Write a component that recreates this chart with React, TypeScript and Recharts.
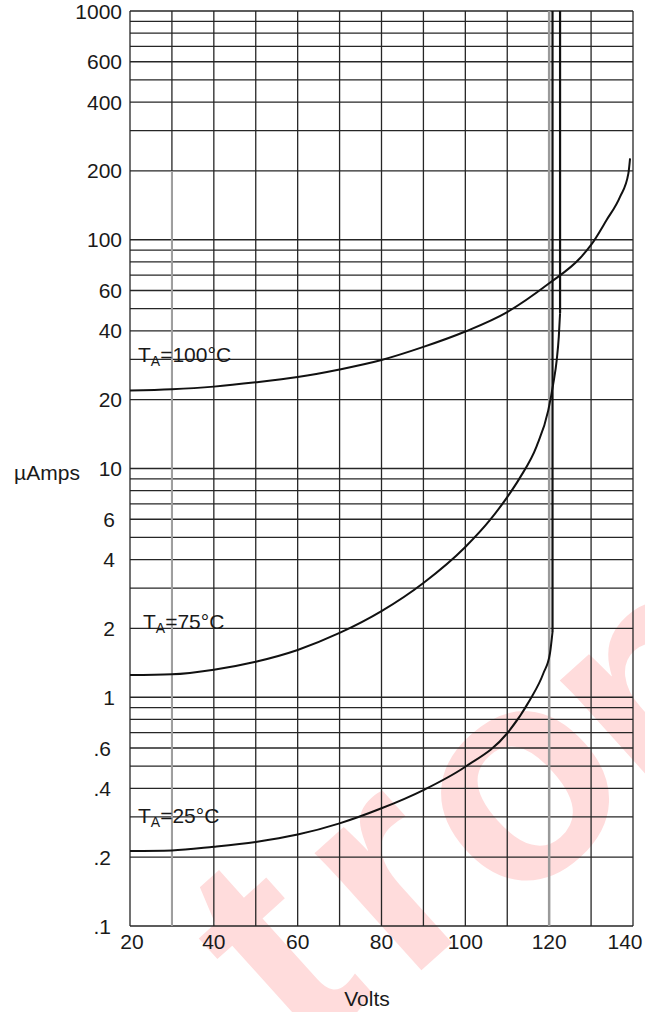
import { LineChart, Line, XAxis, YAxis, CartesianGrid, ReferenceLine } from 'recharts'

// axis ticks (log grid: 1..9 per decade)
const voltTicks = [20, 30, 40, 50, 60, 70, 80, 90, 100, 110, 120, 130, 140]
const voltLabels = [20, 40, 60, 80, 100, 120, 140]
const ampTicks = [
  0.1, 0.2, 0.3, 0.4, 0.5, 0.6, 0.7, 0.8, 0.9,
  1, 2, 3, 4, 5, 6, 7, 8, 9,
  10, 20, 30, 40, 50, 60, 70, 80, 90,
  100, 200, 300, 400, 500, 600, 700, 800, 900, 1000,
]
const ampLabels = [0.1, 0.2, 0.4, 0.6, 1, 2, 4, 6, 10, 20, 40, 60, 100, 200, 400, 600, 1000]

// TA = 100°C
const t100Volts = [20, 30, 40, 50, 60, 70, 80, 90, 100, 110, 120, 127.4, 130, 133.7, 136.9, 138.9, 139.3]
const t100Amps = [21.9, 22.2, 22.8, 23.8, 25.1, 27.1, 29.8, 34.0, 39.7, 48.3, 64.5, 83.2, 94.9, 122, 154, 195, 227]

// TA = 75°C
const t75Volts = [20, 30, 40, 50, 60, 70, 80, 90, 100, 105.9, 110, 113, 117, 119.8, 121, 121.8, 122.3, 122.6]
const t75Amps = [1.25, 1.26, 1.32, 1.43, 1.61, 1.91, 2.38, 3.16, 4.54, 5.96, 7.5, 9.1, 12.5, 18.0, 23.6, 29.8, 37.7, 47.7]
const t75BreakVolts = [122.6, 122.6]
const t75BreakAmps = [47.7, 1000]

// TA = 25°C
const t25Volts = [20, 30, 40, 50, 60, 70, 80, 90, 100, 110, 115.4, 118.6, 120.2, 120.8]
const t25Amps = [0.213, 0.214, 0.222, 0.233, 0.251, 0.281, 0.327, 0.393, 0.497, 0.696, 0.973, 1.27, 1.56, 1.93]
const t25BreakVolts = [120.8, 120.8]
const t25BreakAmps = [1.93, 1000]

const toPoints = (volts: number[], amps: number[]) => volts.map((v, i) => ({ volts: v, amps: amps[i] }))

const FONT = '"Liberation Sans", Arial, sans-serif'
const INK = '#1a1a1a'
const GRID = '#262626'

const XTick = ({ x, y, payload }: any) => {
  const v = payload.value
  if (!voltLabels.includes(v)) return null
  const shift = v === 140 ? -8 : v === 20 ? 2 : 0
  return (
    <text x={x + shift} y={y} dy="0.71em" textAnchor="middle" fontSize={21} fontFamily={FONT} fill={INK}>
      {v}
    </text>
  )
}

const YTick = ({ x, y, payload }: any) => {
  const v = payload.value
  if (!ampLabels.includes(v)) return null
  const text = v < 1 ? String(v).replace('0.', '.') : String(v)
  const shift = v >= 10 ? 0 : v >= 1 ? -7 : -11
  return (
    <text x={x + shift} y={y} dy="0.36em" textAnchor="end" fontSize={21} fontFamily={FONT} fill={INK}>
      {text}
    </text>
  )
}

function Temp({ x, y, t }: { x: number; y: number; t: string }) {
  return (
    <text x={x} y={y} fontSize={21} fontFamily={FONT} fill={INK}>
      T<tspan fontSize={14} dy={3.5}>A</tspan>
      <tspan dy={-3.5}>={t}°C</tspan>
    </text>
  )
}

// watermark letters, each rotated on its own
function Mark({ x, y, ch }: { x: number; y: number; ch: string }) {
  return (
    <text
      transform={`translate(${x},${y}) rotate(-42)`}
      textAnchor="middle"
      dy="0.27em"
      fontSize={300}
      fontWeight="bold"
      fontFamily={FONT}
      fill="#ffdcdc"
    >
      {ch}
    </text>
  )
}

export default function App() {
  return (
    <div style={{ position: 'absolute', left: 0, top: 0, width: 645, height: 1012, background: '#fff', overflow: 'hidden' }}>
      <svg width={645} height={1012} style={{ position: 'absolute', left: 0, top: 0 }}>
        <Mark x={285} y={965} ch="t" />
        <Mark x={395} y={885} ch="r" />
        <Mark x={524} y={795} ch="o" />
        <Mark x={665} y={690} ch="n" />
      </svg>
      <div style={{ position: 'absolute', left: 0, top: 0 }}>
        <LineChart width={645} height={1012} margin={{ top: 11, right: 12, bottom: 0, left: 0 }}>
          <CartesianGrid stroke={GRID} strokeWidth={1.3} />
          <XAxis
            type="number"
            dataKey="volts"
            domain={[20, 140]}
            ticks={voltTicks}
            interval={0}
            allowDataOverflow
            height={86}
            axisLine={false}
            tickLine={false}
            tick={<XTick />}
          />
          <YAxis
            type="number"
            scale="log"
            dataKey="amps"
            domain={[0.1, 1000]}
            ticks={ampTicks}
            interval={0}
            allowDataOverflow
            width={130}
            axisLine={false}
            tickLine={false}
            tick={<YTick />}
          />
          <ReferenceLine x={120} stroke="#9a9a9a" strokeWidth={2.5} />
          <ReferenceLine segment={[{ x: 30, y: 0.1 }, { x: 30, y: 200 }]} stroke="#a0a0a0" strokeWidth={2} />
          <Line data={toPoints(t100Volts, t100Amps)} dataKey="amps" type="monotone" stroke="#111" strokeWidth={2} dot={false} isAnimationActive={false} />
          <Line data={toPoints(t75Volts, t75Amps)} dataKey="amps" type="monotone" stroke="#111" strokeWidth={2} dot={false} isAnimationActive={false} />
          <Line data={toPoints(t75BreakVolts, t75BreakAmps)} dataKey="amps" type="linear" stroke="#111" strokeWidth={2.2} dot={false} isAnimationActive={false} />
          <Line data={toPoints(t25Volts, t25Amps)} dataKey="amps" type="monotone" stroke="#111" strokeWidth={2} dot={false} isAnimationActive={false} />
          <Line data={toPoints(t25BreakVolts, t25BreakAmps)} dataKey="amps" type="linear" stroke="#111" strokeWidth={2.2} dot={false} isAnimationActive={false} />
        </LineChart>
      </div>
      <svg width={645} height={1012} style={{ position: 'absolute', left: 0, top: 0, pointerEvents: 'none' }}>
        <Temp x={138} y={362} t="100" />
        <Temp x={143} y={629} t="75" />
        <Temp x={138} y={823} t="25" />
        <text x={47} y={472} dy="0.36em" textAnchor="middle" fontSize={21} fontFamily={FONT} fill={INK}>
          µAmps
        </text>
        <text x={367} y={998} dy="0.36em" textAnchor="middle" fontSize={21} fontFamily={FONT} fill={INK}>
          Volts
        </text>
      </svg>
    </div>
  )
}
